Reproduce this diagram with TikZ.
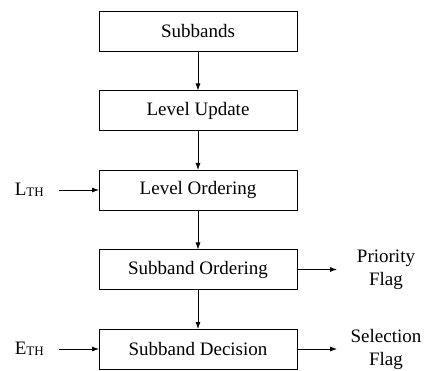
\documentclass[tikz,border=0pt]{standalone}
\usepackage{fontspec}
\setmainfont{Liberation Serif}
\usetikzlibrary{positioning,arrows.meta}

\newcommand{\thsub}[1]{#1\raisebox{-1.5pt}{\fontsize{13}{13}\selectfont TH}}

\tikzset{
  block/.style={draw, line width=0.9pt, minimum width=198pt, minimum height=40pt,
    inner sep=0pt, outer sep=0pt, font=\fontsize{19}{23}\selectfont},
  lab/.style={inner sep=0pt, align=center, font=\fontsize{19}{23}\selectfont},
  flow/.style={line width=0.8pt, -{Latex[length=7pt,width=5pt]}}
}

\begin{document}
\begin{tikzpicture}[x=1pt, y=1pt]
  \useasboundingbox (0,0) rectangle (426,370);

  % blocs principaux
  \node[block] (sb) at (198,339) {Subbands};
  \node[block, below=39.5pt of sb] (lupd) {Level Update};
  \node[block, below=39.5pt of lupd] (lord) {Level Ordering};
  \node[block, below=39.5pt of lord] (sord) {Subband Ordering};
  \node[block, below=39.5pt of sord] (sdec) {Subband Decision};

  % entrees a gauche
  \node[lab, left=55pt of lord] (lth) {\thsub{L}};
  \node[lab, left=55pt of sdec] (eth) {\thsub{E}};

  % sorties a droite
  \coordinate (pfend) at ([xshift=40pt]sord.east);
  \coordinate (sfend) at ([xshift=40pt]sdec.east);
  \node[lab, right=49pt of pfend, anchor=center] (pflag) {Priority\\Flag};
  \node[lab, right=49pt of sfend, anchor=center] (sflag) {Selection\\Flag};

  % fleches
  \draw[flow] (sb) -- (lupd);
  \draw[flow] (lupd) -- (lord);
  \draw[flow] (lord) -- (sord);
  \draw[flow] (sord) -- (sdec);
  \draw[flow, shorten <=15pt] (lth) -- (lord);
  \draw[flow, shorten <=15pt] (eth) -- (sdec);
  \draw[flow] (sord) -- (pfend);
  \draw[flow] (sdec) -- (sfend);
\end{tikzpicture}
\end{document}
